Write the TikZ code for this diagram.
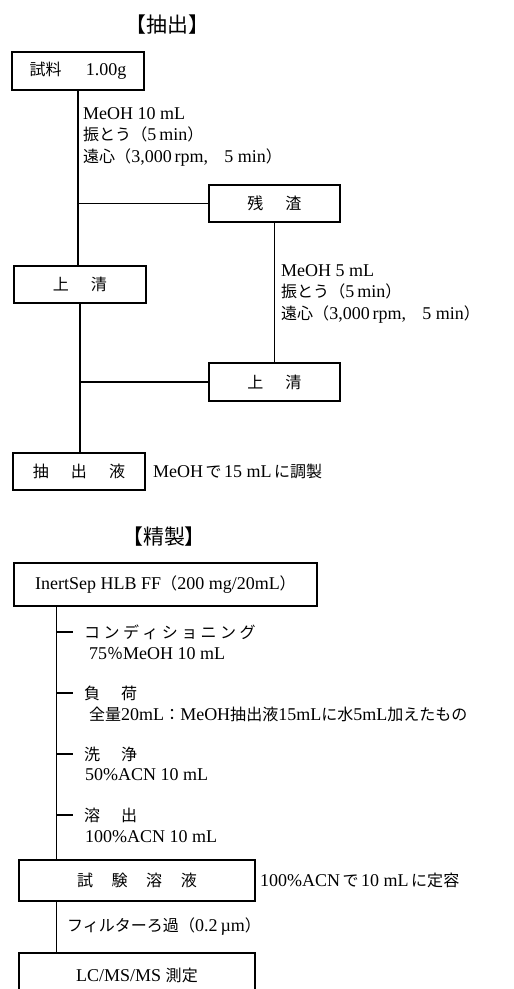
\documentclass[tikz,border=0pt]{standalone}
\usepackage{fontspec}
\setmainfont{Liberation Serif}
\newfontfamily\jp{Noto Sans CJK JP}[Scale=0.89]
\newcommand\J[1]{{\jp #1}}
\newcommand\JS[1]{\hspace{2.5pt}{\jp #1}\hspace{2.5pt}}
\tikzset{
  every node/.style={font=\fontsize{18}{21.5}\selectfont, inner sep=0pt},
  box/.style={draw, line width=1.5pt},
  conn/.style={line width=1.5pt},
  lbl/.style={anchor=west, align=left},
  ttl/.style={font=\fontsize{23.5}{26}\selectfont}
}
\begin{document}
\begin{tikzpicture}[x=1pt,y=-1pt]
\useasboundingbox (0,0) rectangle (514,989);
% titles
\node[ttl] (t1) at (167.5,25) {\J{【抽出】}};
\node[ttl] (t2) at (164,537) {\J{【精製】}};
% extraction boxes
\node[box, minimum width=132pt, minimum height=38pt] (A) at (78,71) {\J{試料}\hspace{24pt}1.00g};
\node[box, minimum width=131pt, minimum height=37pt] (B) at (274.5,203.5) {\J{残}\hspace{22pt}\J{渣}};
\node[box, minimum width=132pt, minimum height=37pt] (C) at (80,284.5) {\J{上}\hspace{22pt}\J{清}};
\node[box, minimum width=131pt, minimum height=38pt] (D) at (274.5,382) {\J{上}\hspace{22pt}\J{清}};
\node[box, minimum width=132pt, minimum height=37pt] (E) at (79,471.5) {\J{抽}\hspace{22pt}\J{出}\hspace{22pt}\J{液}};
% extraction labels
\node[lbl] (l1) at (83,136.5) {MeOH 10 mL\\\J{振とう（}5\,min\J{）}\\\J{遠心（}3,000\,rpm,\J{　}5 min\J{）}};
\node[lbl] (l2) at (281,293.5) {MeOH 5 mL\\\J{振とう（}5\,min\J{）}\\\J{遠心（}3,000\,rpm,\J{　}5 min\J{）}};
\node[lbl] (l3) at (153,471.5) {MeOH\JS{で}15 mL\JS{に調製}};
% extraction connectors
\draw[conn] (A.south) -- (A.south |- C.north);
\draw[conn] (A.south |- B.west) -- (B.west);
\draw[conn] (B.south) -- (B.south |- D.north);
\draw[conn] (C.south) -- (C.south |- E.north);
\draw[conn] (C.south |- D.west) -- (D.west);
% purification boxes
\node[box, minimum width=303pt, minimum height=43pt] (F) at (165.5,584.5) {InertSep HLB FF\J{（}200 mg/20mL\J{）}};
\node[box, minimum width=236pt, minimum height=41pt] (G) at (137,880.5) {\J{試}\hspace{18.5pt}\J{験}\hspace{18.5pt}\J{溶}\hspace{18.5pt}\J{液}};
\node[box, minimum width=236pt, minimum height=44pt] (H) at (137,975) {LC/MS/MS \J{測定}};
\node[lbl] (l4) at (260,880.5) {100\%ACN\JS{で}10 mL\JS{に定容}};
\node[lbl] (l5) at (67,927) {\J{フィルターろ過（}0.2\,µm\J{）}};
% main purification line
\coordinate (ftop) at ([xshift=43pt]F.south west);
\coordinate (gtop) at ([xshift=38pt]G.north west);
\draw[conn] (ftop) -- (gtop);
\draw[conn] ([xshift=38pt]G.south west) -- ([xshift=38pt]H.north west);
% ticks
\foreach \i/\y in {1/632,2/693,3/754,4/815}{
  \coordinate (ta\i) at (57,\y);
  \coordinate (tb\i) at (73,\y);
  \draw[conn] (ta\i) -- (tb\i);
}
\node[lbl] (h1) at (84,632) {\J{コ\hspace{3.4pt}ン\hspace{3.4pt}デ\hspace{3.4pt}ィ\hspace{3.4pt}シ\hspace{3.4pt}ョ\hspace{3.4pt}ニ\hspace{3.4pt}ン\hspace{3.4pt}グ}};
\node[lbl] (s1) at (89,653) {75\J{％}MeOH 10 mL};
\node[lbl] (h2) at (84,693) {\J{負}\hspace{21pt}\J{荷}};
\node[lbl] (s2) at (89,714) {\J{全量}20mL\J{：}MeOH\J{抽出液}15mL\J{に水}5mL\J{加えたもの}};
\node[lbl] (h3) at (84,754) {\J{洗}\hspace{21pt}\J{浄}};
\node[lbl] (s3) at (85,775) {50\%ACN 10 mL};
\node[lbl] (h4) at (84,815) {\J{溶}\hspace{21pt}\J{出}};
\node[lbl] (s4) at (85,837) {100\%ACN 10 mL};
\end{tikzpicture}
\end{document}
